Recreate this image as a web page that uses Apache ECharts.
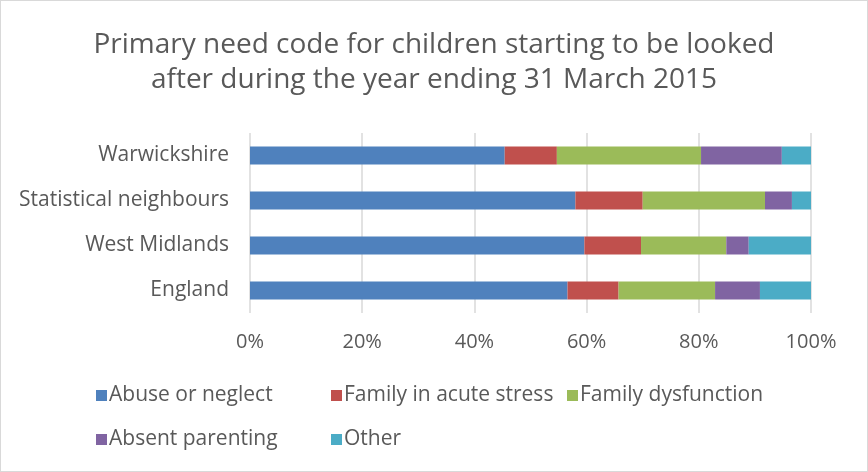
<!DOCTYPE html>
<html><head><meta charset="utf-8">
<script src="https://cdn.jsdelivr.net/npm/echarts@6/dist/echarts.min.js"></script>
<style>
html,body{margin:0;padding:0;background:#fff;}
#c{width:868px;height:472px;box-sizing:border-box;border:1px solid #d9d9d9;}
</style></head><body>
<div id="c"></div>
<script>
const categories = ["Warwickshire", "Statistical neighbours", "West Midlands", "England"];
const seriesNames = ["Abuse or neglect", "Family in acute stress", "Family dysfunction", "Absent parenting", "Other"];
const abuseNeglect   = [45.4, 58.0, 59.6, 56.6];
const acuteStress    = [9.3, 12.0, 10.1, 9.1];
const dysfunction    = [25.7, 21.8, 15.2, 17.2];
const absentParent   = [14.4, 4.8, 4.0, 8.0];
const other          = [5.2, 3.4, 11.1, 9.1];
const xTicks = [0, 20, 40, 60, 80, 100];

const values = [abuseNeglect, acuteStress, dysfunction, absentParent, other];
const colors = ["#4f81bd", "#c0504d", "#9bbb59", "#8064a2", "#4bacc6"];
const FONT = "'Open Sans', 'Noto Sans', sans-serif";
const legendPos = [[90, 379], [325, 379], [561, 379], [90, 423], [325, 423]];

const chart = echarts.init(document.getElementById('c'), null, {renderer: 'canvas'});
chart.setOption({
  animation: false,
  backgroundColor: '#fff',
  title: {
    text: 'Primary need code for children starting to be looked\nafter during the year ending 31 March 2015',
    left: 'center', top: 22,
    textStyle: {fontFamily: FONT, fontSize: 28, fontWeight: 'normal', color: '#595959', lineHeight: 35}
  },
  legend: seriesNames.map((n, i) => ({
    data: [n], left: legendPos[i][0], top: legendPos[i][1],
    icon: 'rect', itemWidth: 11, itemHeight: 11, itemGap: 5,
    textStyle: {fontFamily: FONT, fontSize: 21, color: '#595959', padding: [0, 0, 0, -3]},
    selectedMode: false
  })),
  grid: {left: 249, right: 56, top: 132, height: 180, containLabel: false},
  xAxis: {
    type: 'value', min: 0, max: 100, interval: 20,
    axisLabel: {formatter: v => xTicks.includes(v) ? v + '%' : '', fontFamily: FONT, fontSize: 20, color: '#595959', margin: 19},
    axisLine: {show: false}, axisTick: {show: false},
    splitLine: {lineStyle: {color: '#d9d9d9', width: 1.5}}
  },
  yAxis: {
    type: 'category', data: categories, inverse: true,
    axisLabel: {fontFamily: FONT, fontSize: 21, color: '#595959', margin: 21},
    axisLine: {show: false}, axisTick: {show: false}
  },
  series: seriesNames.map((n, i) => ({
    name: n, type: 'bar', stack: 'total', data: values[i], barWidth: 18,
    itemStyle: {color: colors[i]}
  }))
});
</script>
</body></html>
